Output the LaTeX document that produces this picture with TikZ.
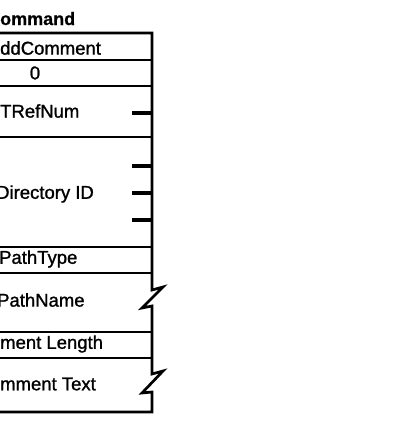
\documentclass[tikz,border=0pt]{standalone}
\usepackage{fontspec}
\setmainfont{Liberation Sans}
\newfontfamily\fieldfont{Liberation Sans}[FakeBold=1.2]
\newfontfamily\titlefont{Liberation Sans Bold}[FakeBold=0.6]
\begin{document}
\begin{tikzpicture}[x=1pt,y=-1pt,
  frame/.style={line width=2.7pt,line join=miter},
  tick/.style={line width=3.2pt},
  field/.style={anchor=west,inner sep=0pt,font=\fieldfont\fontsize{18.5}{20}\selectfont},
  title/.style={anchor=base west,inner sep=0pt,font=\titlefont\fontsize{18}{20}\selectfont}]
\useasboundingbox (0,0) rectangle (400,423);
% title
\node[title] (ttl) at (0,25) {ommand};
% outline with zigzag breaks
\draw[frame] (-20,33) -- (152,33) -- (152,290) -- (163,287) -- (142,308) -- (152,306)
  -- (152,374) -- (163,371) -- (142,393) -- (152,392) -- (152,412) -- (-20,412);
% row separators
\foreach \y in {60,86,137,247,273,332,358}
  \draw[frame] (-20,\y) -- (152,\y);
% ticks
\foreach \y in {113,166,193,220}
  \draw[tick] (132,\y) -- (152,\y);
% field labels
\node[field] (f1) at (0,48) {ddComment};
\node[field,anchor=center] (f2) at (35,73) {0};
\node[field] (f3) at (0,111) {TRefNum};
\node[field] (f4) at (-4,194) {Directory ID};
\node[field] (f5) at (-1,259) {PathType};
\node[field] (f6) at (-3,300) {PathName};
\node[field] (f7) at (0,344) {ment Length};
\node[field] (f8) at (0,384) {mment Text};
\end{tikzpicture}
\end{document}
